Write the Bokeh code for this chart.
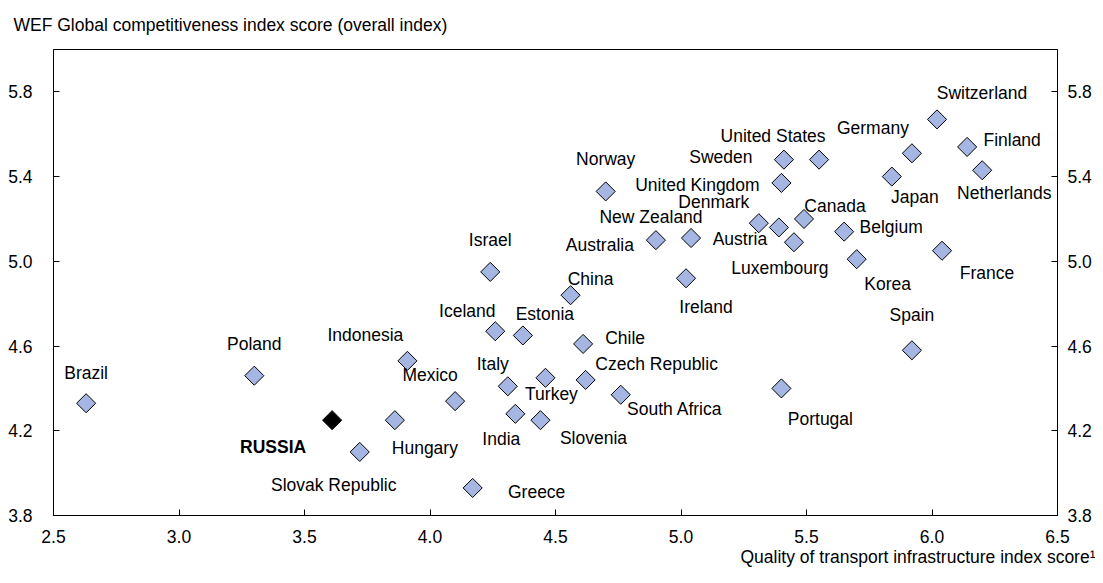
import math
from bokeh.plotting import figure
from bokeh.models import (ColumnDataSource, LabelSet, LinearAxis, FixedTicker,
                          NumeralTickFormatter, Range1d, Title)
from bokeh.core.properties import value
from bokeh.embed import file_html
from bokeh.resources import INLINE

# ---------------- data ----------------
countries = ["Brazil", "Poland", "Slovak Republic", "Hungary", "Indonesia", "Mexico",
             "Greece", "Israel", "Iceland", "Italy", "India", "Estonia", "Slovenia",
             "Turkey", "China", "Chile", "Czech Republic", "Norway", "South Africa",
             "Australia", "Ireland", "New Zealand", "Denmark", "Austria", "Portugal",
             "United Kingdom", "Sweden", "Luxembourg", "Canada", "United States",
             "Belgium", "Korea", "Japan", "Germany", "Spain", "Switzerland", "France",
             "Finland", "Netherlands"]
transport_score = [2.63, 3.30, 3.72, 3.86, 3.91, 4.10,
                   4.17, 4.24, 4.26, 4.31, 4.34, 4.37, 4.44,
                   4.46, 4.56, 4.61, 4.62, 4.70, 4.76,
                   4.90, 5.02, 5.04, 5.31, 5.39, 5.40,
                   5.40, 5.41, 5.45, 5.49, 5.55,
                   5.65, 5.70, 5.84, 5.92, 5.92, 6.02, 6.04,
                   6.14, 6.20]
gci_score = [4.33, 4.46, 4.10, 4.25, 4.53, 4.34,
             3.93, 4.95, 4.67, 4.41, 4.28, 4.65, 4.25,
             4.45, 4.84, 4.61, 4.44, 5.33, 4.37,
             5.10, 4.92, 5.11, 5.18, 5.16, 4.40,
             5.37, 5.48, 5.09, 5.20, 5.48,
             5.14, 5.01, 5.40, 5.51, 4.58, 5.67, 5.05,
             5.54, 5.43]

highlight_name = ["RUSSIA"]
highlight_transport = [3.61]
highlight_gci = [4.25]

x_ticks = [2.5, 3.0, 3.5, 4.0, 4.5, 5.0, 5.5, 6.0, 6.5]
y_ticks = [3.8, 4.2, 4.6, 5.0, 5.4, 5.8]

y_title = "WEF Global competitiveness index score (overall index)"
x_title = "Quality of transport infrastructure index score\u00b9"

# ---------------- label placement (screen pixel offsets, x right / y down) ----------------
label_offsets = {
    "Brazil": (0, -30), "Poland": (0, -32), "Slovak Republic": (-26, 33),
    "Hungary": (30, 28), "Indonesia": (-42, -26), "Mexico": (-25, -26),
    "Greece": (64, 4), "Israel": (0, -32), "Iceland": (-28, -20), "Italy": (-15, -22),
    "India": (-14, 25), "Estonia": (22, -21), "Slovenia": (53, 18), "Turkey": (6, 16),
    "China": (20, -16), "Chile": (42, -6), "Czech Republic": (71, -16),
    "Norway": (0, -32), "South Africa": (54, 14), "Australia": (-56, 5),
    "Ireland": (20, 29), "New Zealand": (-40, -21), "Denmark": (-45, -21),
    "Austria": (-39, 12), "Portugal": (39, 31), "United Kingdom": (-84, 2),
    "Sweden": (-63, -3), "Luxembourg": (-14, 26), "Canada": (31, -13),
    "United States": (-46, -24), "Belgium": (47, -5), "Korea": (31, 25),
    "Japan": (23, 20), "Germany": (-39, -25), "Spain": (0, -35),
    "Switzerland": (45, -26), "France": (45, 22), "Finland": (45, -7),
    "Netherlands": (22, 23),
}
highlight_offset = (-59, 27)

FONT = "Liberation Sans"
FS = "17.5px"

src = ColumnDataSource(dict(
    x=transport_score, y=gci_score, name=countries,
    dx=[label_offsets[c][0] for c in countries],
    dy=[-label_offsets[c][1] for c in countries],
))
hsrc = ColumnDataSource(dict(x=highlight_transport, y=highlight_gci, name=highlight_name))

p = figure(width=1095, height=567, output_backend="svg", toolbar_location=None,
           x_range=Range1d(2.5, 6.5), y_range=Range1d(3.8, 6.0),
           min_border_left=53, min_border_right=38, min_border_top=0, min_border_bottom=0,
           y_axis_location=None)
p.xgrid.visible = False
p.ygrid.visible = False
p.outline_line_color = "black"
p.outline_line_width = 1
p.background_fill_color = "white"
p.border_fill_color = "white"

# vertical axis title above the frame, left aligned
p.title.text = y_title
p.title.align = "left"
p.title.offset = -40
p.title.standoff = 27
p.title.vertical_align = "middle"
p.title.text_font = FONT
p.title.text_font_size = FS
p.title.text_font_style = "normal"
p.title.text_color = "black"

def style_axis(ax, standoff):
    ax.axis_line_color = "black"
    ax.axis_line_width = 1
    ax.major_tick_line_color = "black"
    ax.major_tick_in = 6
    ax.major_tick_out = 0
    ax.minor_tick_line_color = None
    ax.major_label_text_font = FONT
    ax.major_label_text_font_size = FS
    ax.major_label_text_color = "black"
    ax.major_label_standoff = standoff
    ax.formatter = NumeralTickFormatter(format="0.0")

xa = p.xaxis[0]
xa.ticker = FixedTicker(ticks=x_ticks)
style_axis(xa, 14)

ly = LinearAxis(ticker=FixedTicker(ticks=y_ticks))
style_axis(ly, 21)
p.add_layout(ly, "left")
ry = LinearAxis(ticker=FixedTicker(ticks=y_ticks))
style_axis(ry, 10)
p.add_layout(ry, "right")

# horizontal axis title below, right aligned
p.add_layout(Title(text=x_title, align="right", offset=-38, standoff=0,
                   vertical_align="middle", text_font=FONT, text_font_size=FS,
                   text_font_style="normal", text_color="black"), "below")

ang = math.pi / 4
p.scatter("x", "y", source=src, marker="square", size=13.5, angle=ang,
          fill_color="#A5B6E3", line_color="black", line_width=1)
p.scatter("x", "y", source=hsrc, marker="square", size=13.5, angle=ang,
          fill_color="black", line_color="black", line_width=1)

p.add_layout(LabelSet(x="x", y="y", text="name", source=src, x_offset="dx", y_offset="dy",
                      text_align="center", text_baseline="middle",
                      text_font=value(FONT), text_font_size=FS, text_color="black"))
p.add_layout(LabelSet(x="x", y="y", text="name", source=hsrc,
                      x_offset=highlight_offset[0], y_offset=-highlight_offset[1],
                      text_align="center", text_baseline="middle", text_font_style="bold",
                      text_font=value(FONT), text_font_size=FS, text_color="black"))

open("out.html", "w").write(file_html(p, INLINE))
